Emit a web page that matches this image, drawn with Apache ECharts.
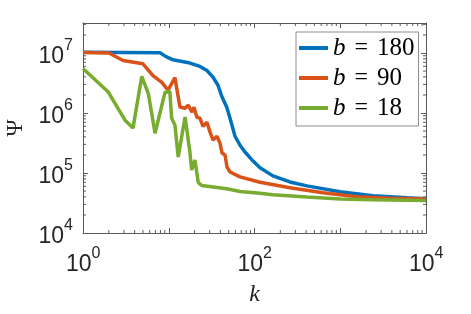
<!DOCTYPE html>
<html>
<head>
<meta charset="utf-8">
<script src="https://cdn.jsdelivr.net/npm/echarts@6/dist/echarts.min.js"></script>
<style>html,body{margin:0;padding:0;background:#fff;}#chart{width:471px;height:314px;}</style>
</head>
<body>
<div id="chart"></div>
<script>
// ---- data ----
var bValues = [180, 90, 18];
var kBlue = [1, 7.9, 9.3, 11.2, 17.7, 23.1, 27.9, 32.8, 37.5, 41.8, 47.4, 51.8, 59.3, 67.8, 77.5, 93.5, 116, 164, 259, 409, 993, 2410, 6000, 10000];
var psiBlue = [1.03e7, 1.01e7, 8.7e6, 7.7e6, 6.8e6, 5.97e6, 5.1e6, 3.97e6, 2.9e6, 1.85e6, 1.26e6, 8.2e5, 4.1e5, 2.9e5, 2.24e5, 1.65e5, 1.22e5, 8.96e4, 7.1e4, 6.1e4, 4.86e4, 4.17e4, 3.86e4, 3.72e4];
var kOrange = [1, 2.01, 2.93, 5.0, 6.55, 8.3, 9.8, 11.8, 13.5, 15.5, 16.8, 18.7, 19.7, 21.3, 23.1, 25.1, 27.9, 30.3, 32.8, 36.5, 39.6, 41.8, 45.3, 47.8, 51.8, 67.8, 116, 259, 629, 1567, 3800, 10000];
var psiOrange = [1.02e7, 1.0e7, 7.5e6, 6.6e6, 4.2e6, 3.24e6, 2.39e6, 3.9e6, 1.26e6, 1.2e6, 1.35e6, 1.03e6, 1.25e6, 8.5e5, 8.2e5, 6.0e5, 7.0e5, 4.8e5, 3.54e5, 4.1e5, 3.15e5, 2.15e5, 2.0e5, 1.26e5, 1.04e5, 8.6e4, 7.0e4, 5.66e4, 4.68e4, 4.02e4, 3.8e4, 3.68e4];
var kGreen = [1, 1.97, 3.09, 3.83, 4.84, 5.78, 6.92, 9.04, 10.3, 10.8, 11.8, 12.9, 15.5, 17.7, 18.5, 20.2, 22.1, 24.2, 47.4, 67.8, 116, 164, 409, 993, 2410, 10000];
var psiGreen = [5.53e6, 2.24e6, 7.6e5, 5.6e5, 4.07e6, 2.1e6, 4.6e5, 2.2e6, 2.3e6, 8.2e5, 6.3e5, 1.85e5, 8.6e5, 2.15e5, 1.12e5, 1.65e5, 6.9e4, 6.2e4, 5.45e4, 4.92e4, 4.6e4, 4.33e4, 3.97e4, 3.68e4, 3.58e4, 3.48e4];

// axis ranges and tick labels
var xMin = 1, xMax = 1e4;
var yMin = 1e4, yMax = Math.pow(10, 7.5);
var xLabelExps = [0, 2, 4];
var yLabelExps = [4, 5, 6, 7];
var minorMults = [2, 3, 4, 5, 6, 7, 8, 9];
var xDecades = [0, 1, 2, 3];
var yDecades = [4, 5, 6, 7];

var colors = ['#0072BD', '#D95319', '#77AC30'];
var axisColor = '#5a5a5a';
var textColor = '#262626';
var serif = '"Liberation Serif", "DejaVu Serif", serif';
var sans = '"Liberation Sans", Arial, sans-serif';

// minor tick positions (axis decoration)
var xMinor = [];
xDecades.forEach(function (d) { minorMults.forEach(function (m) { xMinor.push(m * Math.pow(10, d)); }); });
var yMinor = [];
yDecades.forEach(function (d) { minorMults.forEach(function (m) { var v = m * Math.pow(10, d); if (v < yMax) yMinor.push(v); }); });

function pairs(ks, vs) { return ks.map(function (k, i) { return [k, vs[i]]; }); }

function expLabel(list) {
  return function (v) {
    var l = Math.log10(v), e = Math.round(l);
    if (Math.abs(l - e) > 1e-6 || list.indexOf(e) < 0) return '';
    return '{h| }{b|10}{s|' + e + '}';
  };
}
var labelRich = {
  h: { fontSize: 1, lineHeight: 30 },
  b: { fontSize: 23, lineHeight: 23, verticalAlign: 'bottom', fontFamily: sans, color: textColor },
  s: { fontSize: 16, lineHeight: 16, verticalAlign: 'top', fontFamily: sans, color: textColor }
};

var chart = echarts.init(document.getElementById('chart'), null, { renderer: 'canvas' });
var names = bValues.map(function (b) { return 'b = ' + b; });

var option = {
  animation: false,
  backgroundColor: '#fff',
  grid: { left: 83, right: 45, top: 23, bottom: 81, containLabel: false, outerBoundsMode: 'none' },
  xAxis: [{
    type: 'log', logBase: 10, min: xMin, max: xMax,
    name: 'k', nameLocation: 'middle', nameGap: 50,
    nameTextStyle: { fontFamily: serif, fontStyle: 'italic', fontSize: 24, color: textColor },
    axisLine: { show: true, lineStyle: { color: axisColor, width: 1 } },
    axisTick: { show: true, inside: true, length: 5, lineStyle: { color: axisColor } },
    axisLabel: { formatter: expLabel(xLabelExps), rich: labelRich, margin: 13, showMinLabel: true, showMaxLabel: true },
    splitLine: { show: false }
  }, {
    type: 'log', logBase: 10, min: xMin, max: xMax, position: 'top',
    axisLine: { show: true, lineStyle: { color: axisColor, width: 1 } },
    axisTick: { show: true, inside: true, length: 5, lineStyle: { color: axisColor } },
    axisLabel: { show: false }, splitLine: { show: false }
  }],
  yAxis: [{
    type: 'log', logBase: 10, min: yMin, max: yMax,
    name: '\u03A8', nameLocation: 'middle', nameGap: 54,
    nameTextStyle: { fontFamily: serif, fontSize: 23, color: textColor },
    axisLine: { show: true, lineStyle: { color: axisColor, width: 1 } },
    axisTick: { show: true, inside: true, length: 5, lineStyle: { color: axisColor } },
    axisLabel: { formatter: expLabel(yLabelExps), rich: labelRich, margin: 10, showMaxLabel: false },
    splitLine: { show: false }
  }, {
    type: 'log', logBase: 10, min: yMin, max: yMax, position: 'right',
    axisLine: { show: true, lineStyle: { color: axisColor, width: 1 } },
    axisTick: { show: true, inside: true, length: 5, lineStyle: { color: axisColor } },
    axisLabel: { show: false }, splitLine: { show: false }
  }],
  legend: {
    data: names,
    orient: 'vertical', left: 296, top: 32,
    padding: [3, 4, 5, 3], itemGap: 4,
    itemWidth: 29, itemHeight: 4, icon: 'rect',
    backgroundColor: '#fff', borderColor: '#8c8c8c', borderWidth: 1,
    formatter: function (n) { return '{i|b}{e|=}{n|' + n.split('= ')[1] + '}'; },
    textStyle: {
      color: '#000', lineHeight: 26, fontFamily: serif, fontSize: 24,
      rich: {
        i: { fontFamily: serif, fontStyle: 'italic', fontSize: 25, color: '#000', lineHeight: 26 },
        e: { fontFamily: serif, fontSize: 24, color: '#000', padding: [0, 9], lineHeight: 26 },
        n: { fontFamily: serif, fontSize: 25, color: '#000', lineHeight: 26 }
      }
    }
  },
  series: [
    { name: names[0], type: 'line', data: pairs(kBlue, psiBlue), showSymbol: false, color: colors[0], lineStyle: { width: 3.5, color: colors[0] } },
    { name: names[1], type: 'line', data: pairs(kOrange, psiOrange), showSymbol: false, color: colors[1], lineStyle: { width: 3.5, color: colors[1] } },
    { name: names[2], type: 'line', data: pairs(kGreen, psiGreen), showSymbol: false, color: colors[2], lineStyle: { width: 3.5, color: colors[2] } },
    {
      type: 'custom', silent: true, clip: false, z: 1,
      data: xMinor.map(function (v) { return [v, yMin]; }),
      renderItem: function (params, api) {
        var k = api.value(0);
        var pb = api.coord([k, yMin]), pt = api.coord([k, yMax]);
        var st = { stroke: axisColor, lineWidth: 1 };
        return { type: 'group', children: [
          { type: 'line', shape: { x1: pb[0], y1: pb[1], x2: pb[0], y2: pb[1] - 3 }, style: st },
          { type: 'line', shape: { x1: pt[0], y1: pt[1], x2: pt[0], y2: pt[1] + 3 }, style: st }
        ] };
      }
    },
    {
      type: 'custom', silent: true, clip: false, z: 1,
      data: yMinor.map(function (v) { return [xMin, v]; }),
      renderItem: function (params, api) {
        var v = api.value(1);
        var pl = api.coord([xMin, v]), pr = api.coord([xMax, v]);
        var st = { stroke: axisColor, lineWidth: 1 };
        return { type: 'group', children: [
          { type: 'line', shape: { x1: pl[0], y1: pl[1], x2: pl[0] + 3, y2: pl[1] }, style: st },
          { type: 'line', shape: { x1: pr[0], y1: pr[1], x2: pr[0] - 3, y2: pr[1] }, style: st }
        ] };
      }
    }
  ]
};
chart.setOption(option);
</script>
</body>
</html>
